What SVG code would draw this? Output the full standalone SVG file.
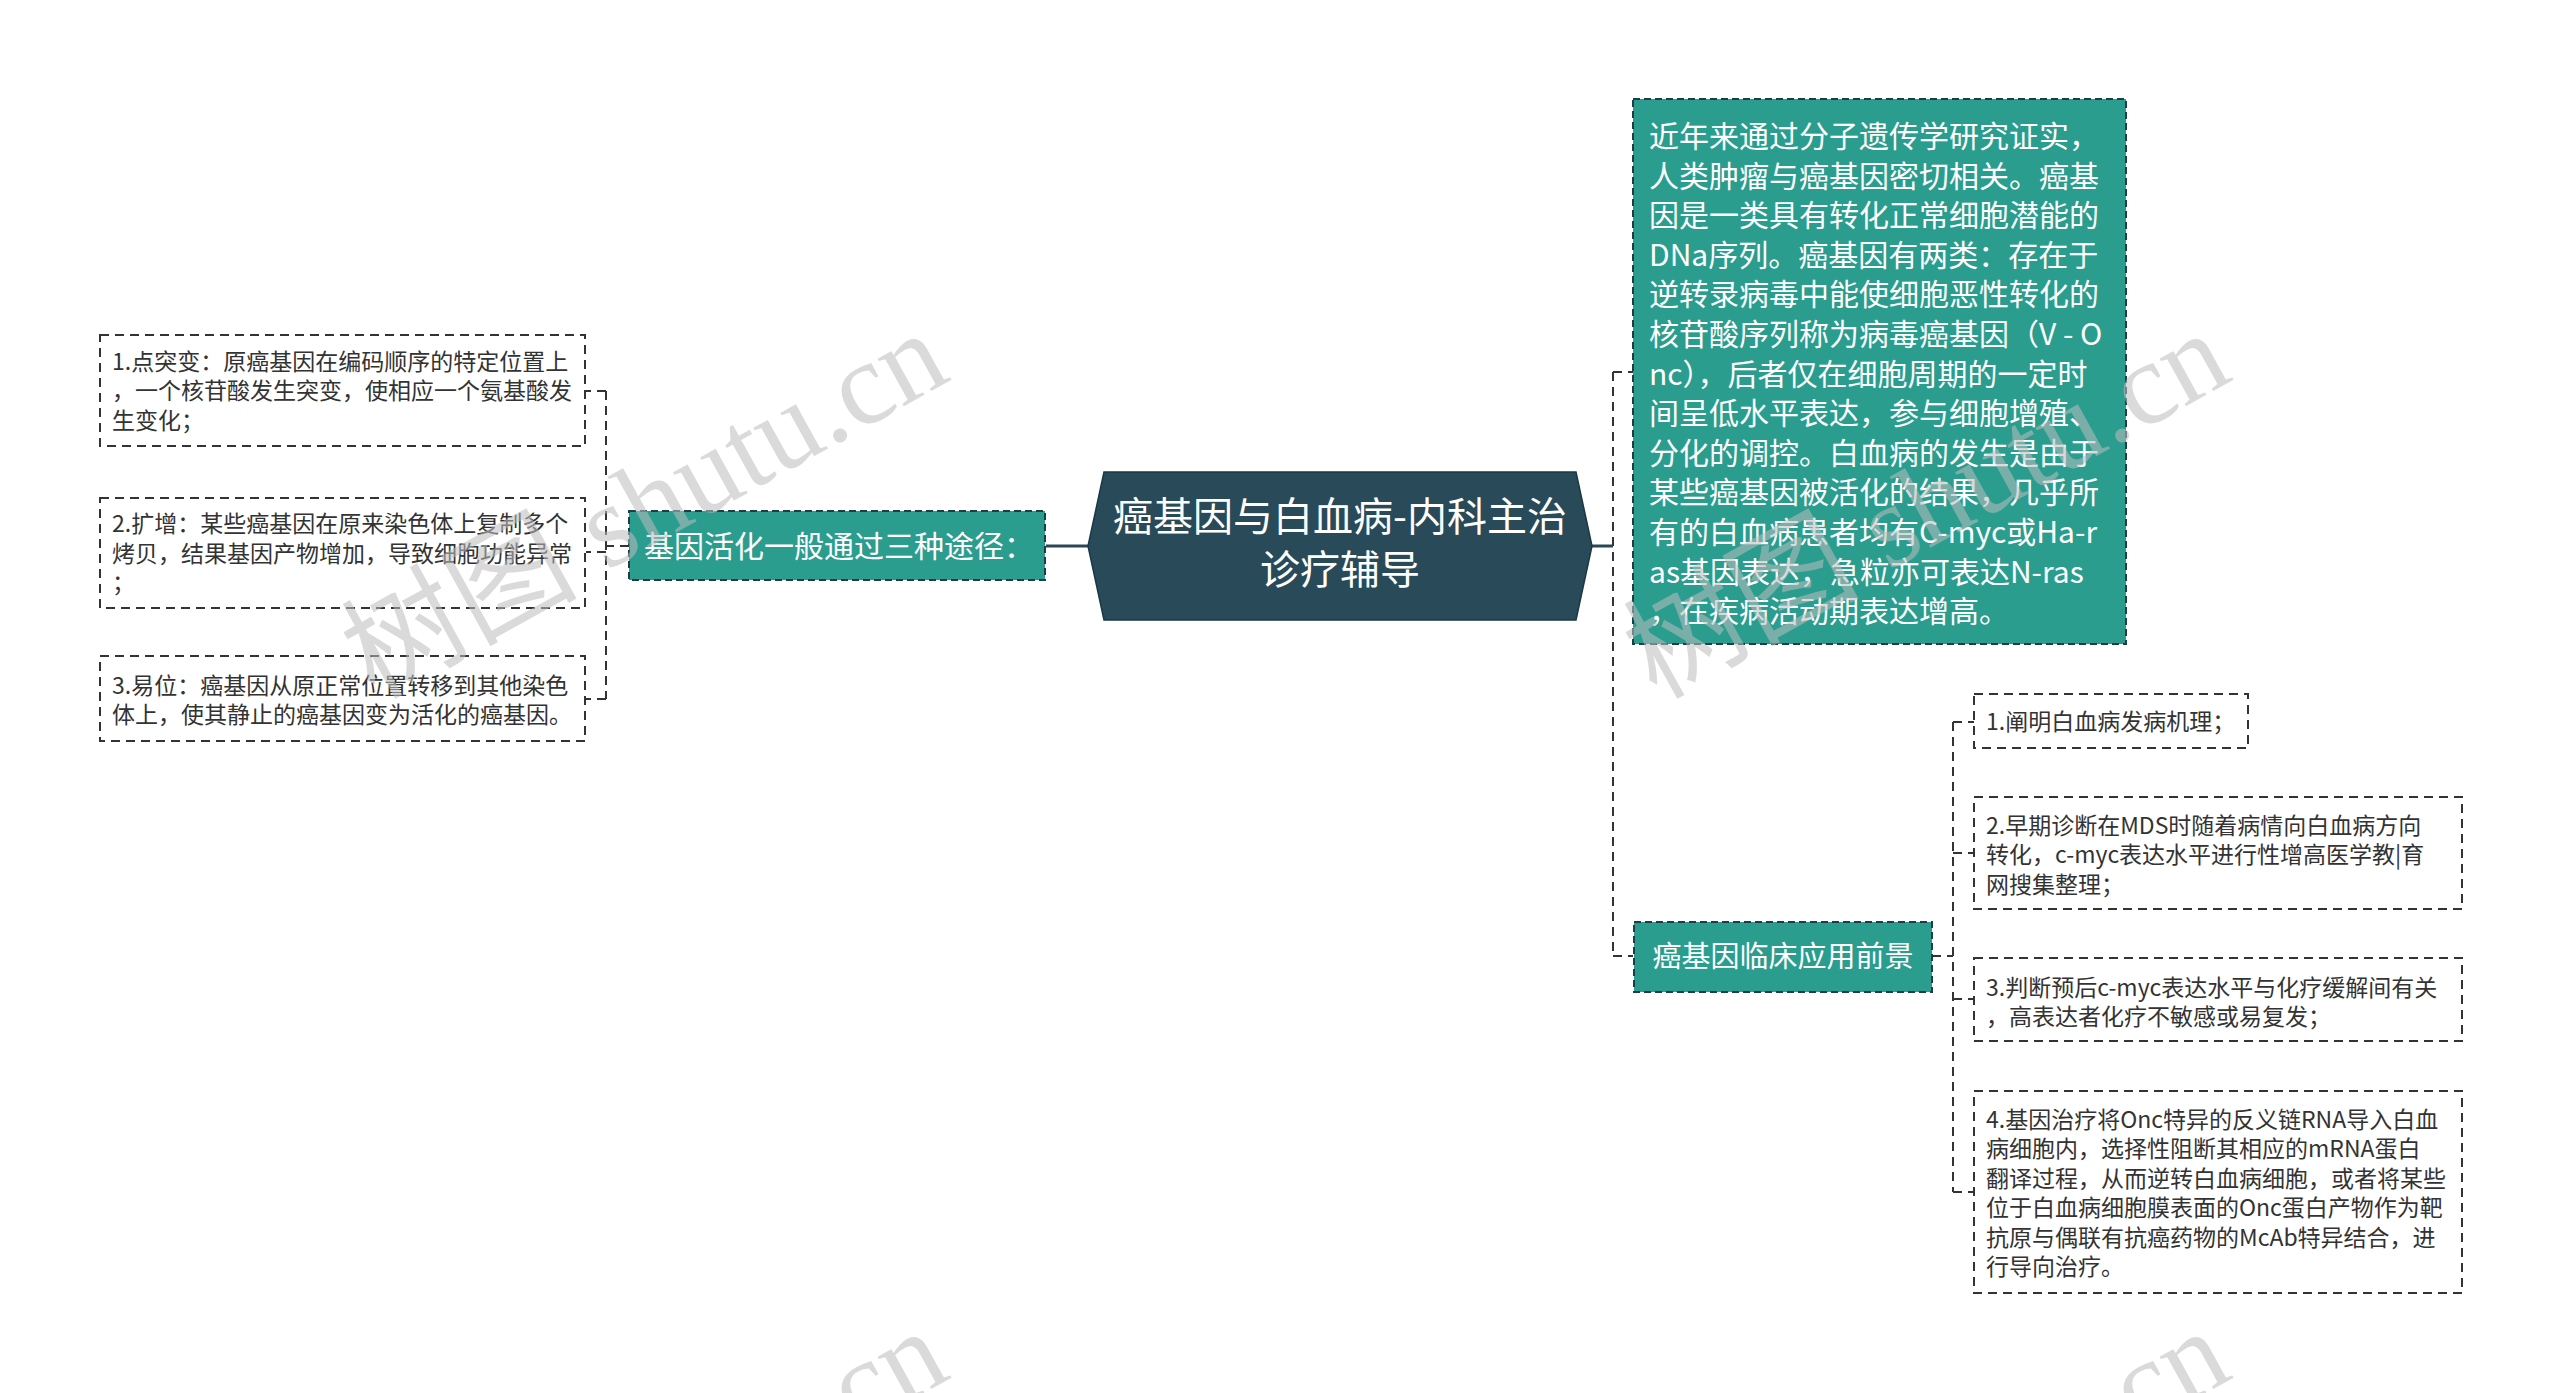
<svg xmlns="http://www.w3.org/2000/svg" width="2560" height="1393" viewBox="0 0 2560 1393">
<style>
.bg{fill:#ffffff}
.leaf{fill:#ffffff;stroke:#333333;stroke-width:2;stroke-dasharray:9 6}
.teal{fill:#2a9d8f;stroke:#1f3d45;stroke-width:2;stroke-dasharray:7 4}
.main{fill:#284a59;stroke:#1d3744;stroke-width:1.5}
.lt{font-family:"Noto Sans CJK SC","Noto Sans",sans-serif;font-size:23px;fill:#333333}
.wt{font-family:"Noto Sans CJK SC","Noto Sans",sans-serif;fill:#ffffff}
.conn{fill:none;stroke:#333333;stroke-width:2;stroke-dasharray:9 6}
.solid{fill:none;stroke:#2a4654;stroke-width:3}
.wm{font-family:"Liberation Serif","Noto Sans CJK SC",serif;font-size:118px;fill:#bdbdbd;opacity:0.55}
</style>
<rect class="bg" x="0" y="0" width="2560" height="1393"/>

<g id="connectors">
  <path class="solid" d="M1046,546 H1089"/>
  <path class="solid" d="M1591,546 H1613"/>
  <path class="conn" d="M629,546 H606"/>
  <path class="conn" d="M606,391 V699"/>
  <path class="conn" d="M606,391 H586"/>
  <path class="conn" d="M606,552 H586"/>
  <path class="conn" d="M606,699 H586"/>
  <path class="conn" d="M1613,372 V956"/>
  <path class="conn" d="M1613,372 H1633"/>
  <path class="conn" d="M1613,956 H1633"/>
  <path class="conn" d="M1932,956 H1953"/>
  <path class="conn" d="M1953,722 V1192"/>
  <path class="conn" d="M1953,722 H1974"/>
  <path class="conn" d="M1953,853 H1974"/>
  <path class="conn" d="M1953,999 H1974"/>
  <path class="conn" d="M1953,1192 H1974"/>
</g>

<g id="root">
  <path class="main" d="M1104,472 L1576,472 L1592,546 L1576,620 L1104,620 L1088,546 Z"/>
  <text class="wt" font-size="40" text-anchor="middle"><tspan x="1340" y="531">癌基因与白血病-内科主治</tspan><tspan x="1340" y="584">诊疗辅导</tspan></text>
</g>

<g id="node-activation">
  <rect class="teal" x="629" y="511" width="416" height="69"/>
  <text class="wt" font-size="30" x="644" y="557">基因活化一般通过三种途径：</text>
</g>

<g id="leaf-l1">
  <rect class="leaf" x="100" y="335" width="485" height="111"/>
  <text class="lt"><tspan x="112" y="369.5">1.点突变：原癌基因在编码顺序的特定位置上</tspan><tspan x="112" y="399">，一个核苷酸发生突变，使相应一个氨基酸发</tspan><tspan x="112" y="428.5">生变化；</tspan></text>
</g>
<g id="leaf-l2">
  <rect class="leaf" x="100" y="498" width="485" height="110"/>
  <text class="lt"><tspan x="112" y="532">2.扩增：某些癌基因在原来染色体上复制多个</tspan><tspan x="112" y="561.5">烤贝，结果基因产物增加，导致细胞功能异常</tspan><tspan x="112" y="591">；</tspan></text>
</g>
<g id="leaf-l3">
  <rect class="leaf" x="100" y="656" width="485" height="85"/>
  <text class="lt"><tspan x="112" y="693.5">3.易位：癌基因从原正常位置转移到其他染色</tspan><tspan x="112" y="723">体上，使其静止的癌基因变为活化的癌基因。</tspan></text>
</g>

<g id="node-summary">
  <rect class="teal" x="1633" y="99" width="493" height="545"/>
  <text class="wt" font-size="30">
    <tspan x="1649" y="147">近年来通过分子遗传学研究证实，</tspan>
    <tspan x="1649" y="186.6">人类肿瘤与癌基因密切相关。癌基</tspan>
    <tspan x="1649" y="226.2">因是一类具有转化正常细胞潜能的</tspan>
    <tspan x="1649" y="265.8">DNa序列。癌基因有两类：存在于</tspan>
    <tspan x="1649" y="305.4">逆转录病毒中能使细胞恶性转化的</tspan>
    <tspan x="1649" y="345">核苷酸序列称为病毒癌基因（V - O</tspan>
    <tspan x="1649" y="384.6">nc），后者仅在细胞周期的一定时</tspan>
    <tspan x="1649" y="424.2">间呈低水平表达，参与细胞增殖、</tspan>
    <tspan x="1649" y="463.8">分化的调控。白血病的发生是由于</tspan>
    <tspan x="1649" y="503.4">某些癌基因被活化的结果，几乎所</tspan>
    <tspan x="1649" y="543">有的白血病患者均有C-myc或Ha-r</tspan>
    <tspan x="1649" y="582.6">as基因表达，急粒亦可表达N-ras</tspan>
    <tspan x="1649" y="622.2">，在疾病活动期表达增高。</tspan>
  </text>
</g>

<g id="node-clinical">
  <rect class="teal" x="1634" y="922" width="298" height="70"/>
  <text class="wt" font-size="29" x="1783" y="967" text-anchor="middle">癌基因临床应用前景</text>
</g>

<g id="leaf-r1">
  <rect class="leaf" x="1974" y="694" width="274" height="54"/>
  <text class="lt" x="1986" y="729.5">1.阐明白血病发病机理；</text>
</g>
<g id="leaf-r2">
  <rect class="leaf" x="1974" y="797" width="488" height="112"/>
  <text class="lt"><tspan x="1986" y="833.5">2.早期诊断在MDS时随着病情向白血病方向</tspan><tspan x="1986" y="863">转化，c-myc表达水平进行性增高医学教|育</tspan><tspan x="1986" y="892.5">网搜集整理；</tspan></text>
</g>
<g id="leaf-r3">
  <rect class="leaf" x="1974" y="958" width="488" height="83"/>
  <text class="lt"><tspan x="1986" y="995.5">3.判断预后c-myc表达水平与化疗缓解间有关</tspan><tspan x="1986" y="1025">，高表达者化疗不敏感或易复发；</tspan></text>
</g>
<g id="leaf-r4">
  <rect class="leaf" x="1974" y="1091" width="488" height="202"/>
  <text class="lt">
    <tspan x="1986" y="1127.5">4.基因治疗将Onc特异的反义链RNA导入白血</tspan>
    <tspan x="1986" y="1157">病细胞内，选择性阻断其相应的mRNA蛋白</tspan>
    <tspan x="1986" y="1186.5">翻译过程，从而逆转白血病细胞，或者将某些</tspan>
    <tspan x="1986" y="1216">位于白血病细胞膜表面的Onc蛋白产物作为靶</tspan>
    <tspan x="1986" y="1245.5">抗原与偶联有抗癌药物的McAb特异结合，进</tspan>
    <tspan x="1986" y="1275">行导向治疗。</tspan>
  </text>
</g>

<g id="watermarks">
  <text class="wm" transform="translate(374,700) rotate(-29)">树图 shutu.cn</text>
  <text class="wm" transform="translate(1656,700) rotate(-29)">树图 shutu.cn</text>
  <text class="wm" transform="translate(374,1698) rotate(-29)">树图 shutu.cn</text>
  <text class="wm" transform="translate(1656,1698) rotate(-29)">树图 shutu.cn</text>
</g>
</svg>
